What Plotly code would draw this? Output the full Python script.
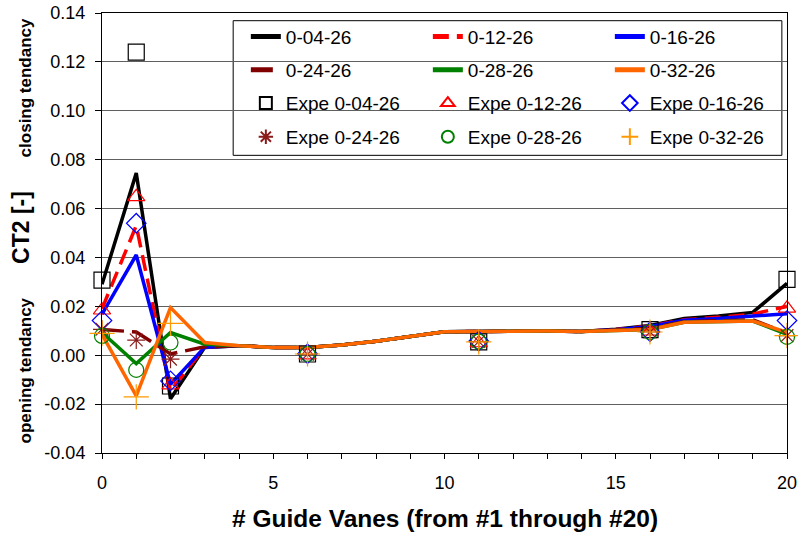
import plotly.graph_objects as go

# Guide vane positions for the simulated curves and the measured points
vanes = list(range(0, 21))
expe_vanes = [0, 1, 2, 6, 11, 16, 20]

# Simulated CT2 per guide vane, one list per case
ct2_0_04_26 = [0.0290, 0.0745, -0.0178, 0.0032, 0.0039, 0.0032, 0.0032, 0.0042, 0.0057, 0.0076,
               0.0096, 0.0097, 0.0099, 0.0099, 0.0097, 0.0106, 0.0122, 0.0150, 0.0160, 0.0175, 0.0294]
ct2_0_12_26 = [0.0190, 0.0530, -0.0146, 0.0033, 0.0039, 0.0032, 0.0032, 0.0042, 0.0057, 0.0076,
               0.0096, 0.0097, 0.0099, 0.0099, 0.0097, 0.0105, 0.0120, 0.0145, 0.0155, 0.0168, 0.0200]
ct2_0_16_26 = [0.0168, 0.0410, -0.0119, 0.0033, 0.0039, 0.0032, 0.0032, 0.0042, 0.0057, 0.0076,
               0.0096, 0.0097, 0.0099, 0.0099, 0.0097, 0.0104, 0.0118, 0.0143, 0.0150, 0.0160, 0.0170]
ct2_0_24_26 = [0.0105, 0.0095, 0.0005, 0.0035, 0.0039, 0.0032, 0.0032, 0.0042, 0.0057, 0.0076,
               0.0096, 0.0097, 0.0099, 0.0099, 0.0097, 0.0103, 0.0110, 0.0137, 0.0140, 0.0145, 0.0090]
ct2_0_28_26 = [0.0093, -0.0034, 0.0093, 0.0045, 0.0039, 0.0032, 0.0032, 0.0042, 0.0057, 0.0076,
               0.0096, 0.0097, 0.0099, 0.0099, 0.0097, 0.0102, 0.0105, 0.0135, 0.0138, 0.0140, 0.0085]
ct2_0_32_26 = [0.0085, -0.0166, 0.0195, 0.0052, 0.0039, 0.0032, 0.0032, 0.0042, 0.0057, 0.0076,
               0.0096, 0.0097, 0.0099, 0.0099, 0.0097, 0.0102, 0.0105, 0.0135, 0.0138, 0.0140, 0.0094]

# Measured CT2 (experiments)
expe_0_04_26 = [0.0307, 0.1240, -0.0126, 0.0005, 0.0055, 0.0105, 0.0310]
expe_0_12_26 = [0.0184, 0.0648, -0.0122, 0.0000, 0.0050, 0.0098, 0.0192]
expe_0_16_26 = [0.0142, 0.0540, -0.0105, 0.0006, 0.0058, 0.0096, 0.0142]
expe_0_24_26 = [0.0106, 0.0062, -0.0016, 0.0004, 0.0056, 0.0095, 0.0080]
expe_0_28_26 = [0.0079, -0.0060, 0.0052, 0.0005, 0.0056, 0.0095, 0.0075]
expe_0_32_26 = [0.0089, -0.0170, 0.0130, 0.0005, 0.0055, 0.0095, 0.0080]

y_ticks = [-0.04, -0.02, 0.00, 0.02, 0.04, 0.06, 0.08, 0.10, 0.12, 0.14]
x_ticks = [0, 5, 10, 15, 20]

FONT = "Liberation Sans, Arial, sans-serif"

line_series = [
    ("0-04-26", ct2_0_04_26, "#000000", "solid", "legend"),
    ("0-12-26", ct2_0_12_26, "#FF0000", "16px,8px", "legend"),
    ("0-16-26", ct2_0_16_26, "#0000FF", "solid", "legend"),
    ("0-24-26", ct2_0_24_26, "#800000", "22px,8px", "legend2"),
    ("0-28-26", ct2_0_28_26, "#008000", "solid", "legend2"),
    ("0-32-26", ct2_0_32_26, "#FF6600", "solid", "legend2"),
]

marker_series = [
    ("Expe 0-04-26", expe_0_04_26, "#000000", "square-open", 16, "legend3"),
    ("Expe 0-12-26", expe_0_12_26, "#FF0000", "triangle-up-open", 15, "legend3"),
    ("Expe 0-16-26", expe_0_16_26, "#0000FF", "diamond-open", 15, "legend3"),
    ("Expe 0-24-26", expe_0_24_26, "#8B1A1A", "asterisk-open", 15, "legend4"),
    ("Expe 0-28-26", expe_0_28_26, "#008000", "circle-open", 15, "legend4"),
    ("Expe 0-32-26", expe_0_32_26, "#FF9900", "cross-thin-open", 18, "legend4"),
]

fig = go.Figure()

for name, vals, color, dash, leg in line_series:
    fig.add_trace(go.Scatter(
        x=vanes, y=vals, name=name, mode="lines",
        line=dict(color=color, width=3.5, dash=dash),
        legend=leg,
    ))

for name, vals, color, symbol, size, leg in marker_series:
    fig.add_trace(go.Scatter(
        x=expe_vanes, y=vals, name=name, mode="markers",
        marker=dict(symbol=symbol, size=size, color=color,
                    line=dict(color=color, width=1.2)),
        cliponaxis=False,
        legend=leg,
    ))

# Legend rows: one horizontal legend per row inside a common frame
row_y = [0.9465, 0.8705, 0.795, 0.7185]
legend_common = dict(
    orientation="h", xanchor="left", yanchor="middle", x=0.210,
    bgcolor="rgba(0,0,0,0)", borderwidth=0,
    entrywidth=137, entrywidthmode="pixels",
    itemsizing="constant", traceorder="normal",
    font=dict(family=FONT, size=19, color="#000000"),
)

layout_legends = {}
for i, ry in enumerate(row_y):
    key = "legend" if i == 0 else f"legend{i + 1}"
    layout_legends[key] = dict(legend_common, y=ry)

fig.update_layout(
    width=798, height=533,
    margin=dict(l=102, r=11, t=13, b=80, autoexpand=False),
    paper_bgcolor="#FFFFFF", plot_bgcolor="#FFFFFF",
    font=dict(family=FONT, size=18, color="#000000"),
    showlegend=True,
    **layout_legends,
)

fig.update_xaxes(
    range=[0, 20], tickvals=x_ticks, ticktext=[str(v) for v in x_ticks],
    ticks="outside", ticklen=5, tickwidth=1, tickcolor="#000000",
    minor=dict(dtick=1, tick0=0, ticks="outside", ticklen=5, tickwidth=1, tickcolor="#000000",
               showgrid=False),
    showgrid=False, zeroline=False,
    showline=True, linecolor="#000000", linewidth=1, mirror=True,
    tickfont=dict(family=FONT, size=18, color="#000000"),
    ticklabelstandoff=8,
)

fig.update_yaxes(
    range=[-0.04, 0.14], tickvals=y_ticks, ticktext=[f"{v:.2f}" for v in y_ticks],
    ticks="outside", ticklen=6, tickwidth=1, tickcolor="#000000",
    showgrid=True, gridcolor="#5f5f5f", gridwidth=1, zeroline=False,
    showline=True, linecolor="#000000", linewidth=1, mirror=True,
    tickfont=dict(family=FONT, size=18, color="#000000"),
    ticklabelstandoff=6,
)

# Legend frame
fig.add_shape(type="rect", xref="paper", yref="paper",
              x0=0.1915, x1=0.9925, y0=0.6765, y1=0.9825,
              line=dict(color="#000000", width=1), fillcolor="#FFFFFF", layer="between")

# Axis titles and tendency labels
fig.add_annotation(text="<b># Guide Vanes (from #1 through #20)</b>", xref="paper", yref="paper",
                   x=0.5, y=-0.148, xanchor="center", yanchor="middle", showarrow=False,
                   font=dict(family=FONT, size=24.5, color="#000000"))
fig.add_annotation(text="<b>CT2 [-]</b>", xref="paper", yref="paper",
                   x=-0.118, y=0.512, xanchor="center", yanchor="middle", textangle=-90,
                   showarrow=False, font=dict(family=FONT, size=23, color="#000000"))
fig.add_annotation(text="<b>closing tendancy</b>", xref="paper", yref="paper",
                   x=-0.1124, y=0.8287, xanchor="center", yanchor="middle", textangle=-90,
                   showarrow=False, font=dict(family=FONT, size=17, color="#000000"))
fig.add_annotation(text="<b>opening tendancy</b>", xref="paper", yref="paper",
                   x=-0.1124, y=0.1877, xanchor="center", yanchor="middle", textangle=-90,
                   showarrow=False, font=dict(family=FONT, size=17, color="#000000"))

fig.write_html("out.html")
